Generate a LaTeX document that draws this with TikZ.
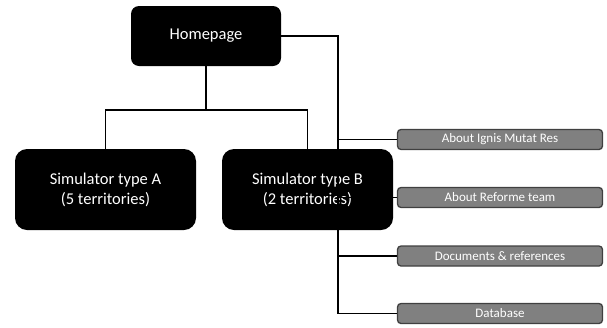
\documentclass[tikz,border=0pt]{standalone}
\usepackage{fontspec}
\setmainfont{Carlito}
\begin{document}
\begin{tikzpicture}[x=1pt,y=-1pt,
  mainbox/.style={fill=black,text=white,rounded corners=9pt,align=center,
    inner sep=0pt,font=\fontsize{16.5}{20}\selectfont},
  sidebox/.style={fill=black!50,draw=black!75,line width=1.3pt,text=white,rounded corners=3.5pt,
    minimum width=205pt,minimum height=20pt,inner sep=0pt,font=\fontsize{13}{15}\selectfont},
  link/.style={line width=1.8pt},
  branch/.style={line width=1.4pt}]
\useasboundingbox (0,0) rectangle (607,327);
\node[mainbox,minimum width=150pt,minimum height=60pt,rounded corners=8pt] (home) at (206,36) {Homepage};
\node[mainbox,minimum width=181pt,minimum height=81pt,rounded corners=12pt] (simA) at (105.5,189.5) {Simulator type A\\(5 territories)};
\node[mainbox,minimum width=171pt,minimum height=81pt,rounded corners=12pt] (simB) at (307.5,189.5) {Simulator type B\\(2 territories)};
\node[sidebox] (ignis) at (500,139.5) {About Ignis Mutat Res};
\node[sidebox] (reforme) at (500,197.5) {About Reforme team};
\node[sidebox] (docs) at (500,256) {Documents \& references};
\node[sidebox] (db) at (500,313.5) {Database};
\coordinate (split) at (206,110);
\coordinate (trunk) at (338,313.5);
\draw[link] (home.south) -- (split);
\draw[link] (simA.north) |- (split) -| (simB.north);
\draw[link] (home.east) -| (trunk) -- (db.west);
\draw[branch] (trunk |- ignis.west) -- (ignis.west);
\draw[branch] (trunk |- reforme.west) -- (reforme.west);
\draw[branch] (trunk |- docs.west) -- (docs.west);
\end{tikzpicture}
\end{document}
